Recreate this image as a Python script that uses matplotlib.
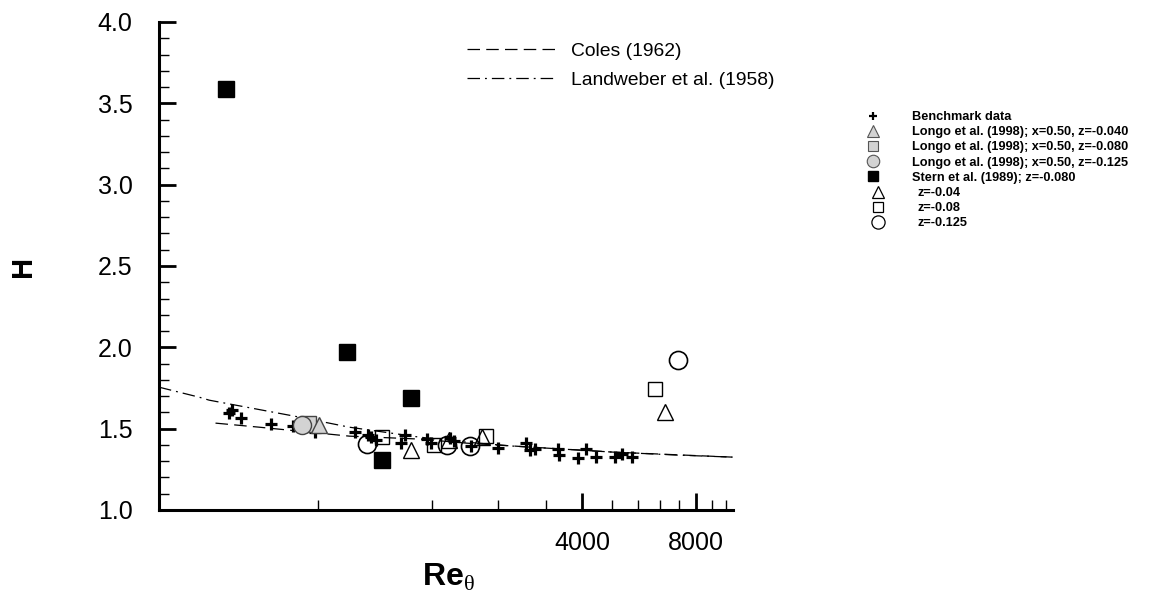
import matplotlib
matplotlib.use('Agg')
import matplotlib.pyplot as plt
from matplotlib.ticker import FixedLocator, NullFormatter, FormatStrFormatter
from matplotlib.lines import Line2D

plt.rcParams['font.family'] = ['Liberation Sans', 'DejaVu Sans']
plt.rcParams['mathtext.fontset'] = 'custom'
plt.rcParams['mathtext.bf'] = 'Liberation Sans:bold'
plt.rcParams['mathtext.rm'] = 'Liberation Serif'

# benchmark data (Re_theta, H)
bench_re = [468, 476, 503, 604, 690, 789, 1006, 1089, 1109, 1143, 1331, 1363, 1559, 1597,
            1792, 1837, 2036, 2400, 2845, 2916, 3006, 3457, 3478, 3904, 4099, 4356, 4889, 5102, 5421]
bench_h = [1.595, 1.613, 1.564, 1.528, 1.515, 1.479, 1.479, 1.460, 1.448, 1.429, 1.411, 1.460, 1.436, 1.411,
           1.442, 1.423, 1.393, 1.380, 1.411, 1.368, 1.374, 1.374, 1.337, 1.319, 1.374, 1.325, 1.325, 1.344, 1.325]

# Longo et al. (1998), x=0.50
longo04_re = [808]
longo04_h = [1.52]
longo08_re = [756]
longo08_h = [1.528]
longo125_re = [729]
longo125_h = [1.52]

# Stern et al. (1989)
stern_re = [459, 958, 1186, 1414]
stern_h = [3.59, 1.97, 1.307, 1.687]

# present results
z04_re = [1414, 1780, 2177, 6627]
z04_h = [1.368, 1.43, 1.448, 1.60]
z08_re = [1185, 1627, 2232, 6233]
z08_h = [1.448, 1.399, 1.454, 1.742]
z125_re = [1082, 1760, 2024, 7172]
z125_h = [1.405, 1.399, 1.393, 1.92]

# correlations
coles_re = [430, 561, 970, 1484, 1976, 4800, 9960]
coles_h = [1.534, 1.509, 1.454, 1.436, 1.411, 1.356, 1.325]
land_re = [305, 390, 414, 716, 970, 1484, 1976, 2614, 4800, 7216, 9960]
land_h = [1.755, 1.693, 1.675, 1.571, 1.509, 1.448, 1.417, 1.393, 1.356, 1.337, 1.325]

fig = plt.figure(figsize=(11.49, 5.99), dpi=100)
ax = fig.add_axes([0.1384, 0.1486, 0.4996, 0.8147])

gray = '#d3d3d3'
l1, = ax.plot(coles_re, coles_h, color='black', lw=0.9, dashes=(10, 5))
l2, = ax.plot(land_re, land_h, color='black', lw=0.9, dashes=(10, 4, 1.5, 4))

ax.plot(bench_re, bench_h, '+', color='black', ms=9, mew=2.3, ls='none')
ax.plot(longo08_re, longo08_h, 's', mfc=gray, mec='#444444', ms=11, mew=1, ls='none')
ax.plot(longo04_re, longo04_h, '^', mfc=gray, mec='#444444', ms=12, mew=1, ls='none')
ax.plot(longo125_re, longo125_h, 'o', mfc=gray, mec='#444444', ms=13, mew=1, ls='none')
ax.plot(stern_re, stern_h, 's', color='black', ms=11, ls='none')
ax.plot(z04_re, z04_h, '^', mfc='none', mec='black', ms=12, mew=1, ls='none')
ax.plot(z08_re, z08_h, 's', mfc='none', mec='black', ms=10, mew=1, ls='none')
ax.plot(z125_re, z125_h, 'o', mfc='none', mec='black', ms=13, mew=1.2, ls='none')

ax.set_xscale('log')
ax.set_xlim(305, 10000)
ax.set_ylim(1.0, 4.0)

ax.xaxis.set_major_locator(FixedLocator([4000, 8000]))
ax.xaxis.set_minor_locator(FixedLocator([800, 1600, 2400, 3200, 4800, 5600, 6400, 7200, 8800, 9600]))
ax.xaxis.set_major_formatter(FormatStrFormatter('%d'))
ax.xaxis.set_minor_formatter(NullFormatter())
ax.yaxis.set_major_locator(FixedLocator([1.0, 1.5, 2.0, 2.5, 3.0, 3.5, 4.0]))
ax.yaxis.set_minor_locator(FixedLocator([1 + 0.1 * i for i in range(31) if i % 5]))
ax.yaxis.set_major_formatter(FormatStrFormatter('%.1f'))

for s in ['top', 'right']:
    ax.spines[s].set_visible(False)
for s in ['left', 'bottom']:
    ax.spines[s].set_linewidth(2.2)
ax.tick_params(which='major', direction='in', length=12, width=2, labelsize=18, pad=19)
ax.tick_params(which='minor', direction='in', length=7, width=1)
ax.tick_params(axis='x', which='major', pad=15)

ax.set_xlabel(r'$\mathbf{Re}_{\mathrm{\theta}}$', fontsize=23)
ax.xaxis.set_label_coords(0.505, -0.1066)
ax.set_ylabel('H', fontsize=21, fontweight='bold')
ax.yaxis.set_label_coords(-0.212, 0.5)

leg1 = fig.legend([l1, l2], ['Coles (1962)', 'Landweber et al. (1958)'],
                  loc='upper left', bbox_to_anchor=(467 / 1149, 1 - 42 / 599),
                  frameon=False, fontsize=13.9, handlelength=4.6, handletextpad=0.8,
                  borderpad=0, borderaxespad=0, labelspacing=0.62)

h_a = [Line2D([], [], marker='+', color='black', ls='none', ms=6, mew=1.6),
       Line2D([], [], marker='^', mfc=gray, mec='#555555', ls='none', ms=8, mew=0.8),
       Line2D([], [], marker='s', mfc=gray, mec='#555555', ls='none', ms=7, mew=0.8),
       Line2D([], [], marker='o', mfc=gray, mec='#555555', ls='none', ms=9, mew=0.8),
       Line2D([], [], marker='s', color='black', ls='none', ms=7)]
lab_a = ['Benchmark data', 'Longo et al. (1998); x=0.50, z=-0.040',
         'Longo et al. (1998); x=0.50, z=-0.080', 'Longo et al. (1998); x=0.50, z=-0.125',
         'Stern et al. (1989); z=-0.080']
h_b = [Line2D([], [], marker='^', mfc='none', mec='black', ls='none', ms=9, mew=0.9),
       Line2D([], [], marker='s', mfc='none', mec='black', ls='none', ms=7.5, mew=0.9),
       Line2D([], [], marker='o', mfc='none', mec='black', ls='none', ms=9.5, mew=0.9)]
lab_b = ['z=-0.04', 'z=-0.08', 'z=-0.125']

prop = {'size': 9.2, 'weight': 'bold'}
leg2 = fig.legend(h_a, lab_a, loc='upper left', bbox_to_anchor=(862 / 1149, 1 - 111 / 599),
                  frameon=False, prop=prop, handlelength=1.75,
                  handletextpad=2.2, borderpad=0, borderaxespad=0, labelspacing=0.25, numpoints=1)
leg3 = fig.legend(h_b, lab_b, loc='upper left', bbox_to_anchor=(867 / 1149, 1 - 187 / 599),
                  frameon=False, prop=prop, handlelength=1.75,
                  handletextpad=2.2, borderpad=0, borderaxespad=0, labelspacing=0.25, numpoints=1)

fig.savefig('out.png', dpi=100)
